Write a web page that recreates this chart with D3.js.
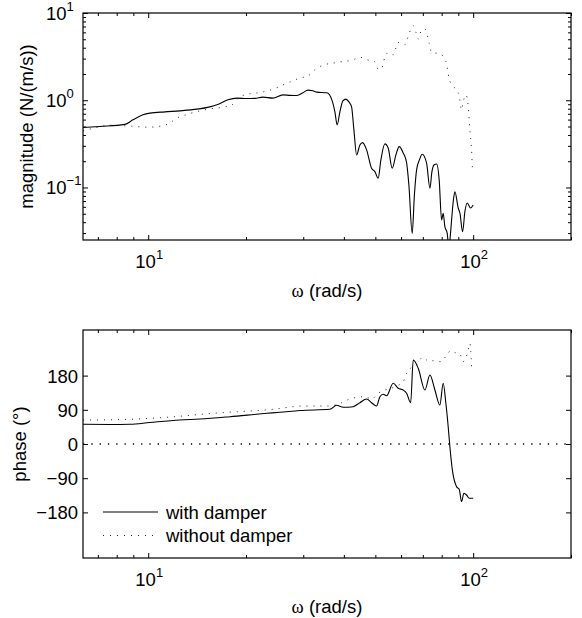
<!DOCTYPE html>
<html>
<head>
<meta charset="utf-8">
<script src="https://cdn.jsdelivr.net/npm/d3@7/dist/d3.min.js"></script>
<style>
body { margin: 0; background: #fff; }
text { font-family: "Liberation Sans", Arial, sans-serif; fill: #000; }
</style>
</head>
<body>
<svg id="chart"></svg>
<script>
var width = 582;
var height = 618;
var fontSize = "18.5px";

// magnitude with damper (omega in rad/s, N/(m/s))
var magOmegaDamped = [6.30, 7.10, 8.48, 8.97, 9.63, 10.12, 11.26, 12.52, 14.12, 15.48, 16.27, 17.59, 18.75, 20.13, 21.30, 22.54, 24.19, 25.97, 27.29, 28.68, 29.92, 31.00, 32.12, 33.04, 35.46, 36.74, 37.54, 38.15, 38.89, 39.73, 40.58, 41.45, 42.25, 42.95, 43.78, 44.81, 45.67, 46.99, 48.68, 49.83, 51.01, 52.00, 53.49, 54.76, 56.34, 57.84, 59.20, 60.90, 62.39, 63.41, 64.91, 65.94, 66.97, 68.32, 69.69, 71.89, 73.60, 74.64, 75.71, 77.17, 78.60, 79.95, 80.86, 81.84, 83.18, 84.19, 85.09, 85.82, 86.93, 87.86, 89.93, 91.02, 92.78, 94.30, 95.83, 98.17, 100];
var magDamped = [0.486, 0.501, 0.529, 0.596, 0.680, 0.711, 0.736, 0.756, 0.790, 0.840, 0.886, 1.011, 1.057, 1.046, 1.051, 1.085, 1.057, 1.153, 1.138, 1.132, 1.216, 1.306, 1.282, 1.239, 1.216, 1.011, 0.736, 0.522, 0.736, 0.984, 1.030, 0.958, 0.840, 0.457, 0.236, 0.307, 0.327, 0.270, 0.166, 0.152, 0.1275, 0.207, 0.316, 0.284, 0.166, 0.236, 0.294, 0.249, 0.193, 0.1068, 0.0298, 0.082, 0.159, 0.207, 0.2405, 0.1896, 0.0979, 0.1507, 0.181, 0.186, 0.122, 0.0424, 0.0506, 0.0355, 0.030, 0.0202, 0.0285, 0.0424, 0.0719, 0.0895, 0.0582, 0.051, 0.0311, 0.0528, 0.0664, 0.0582, 0.063];

// magnitude without damper
var magOmegaFree = [6.30, 6.855, 7.625, 8.89, 10, 11.12, 11.66, 12.28, 13.06, 13.76, 15.30, 17.01, 18.06, 18.71, 19.84, 22.07, 24.24, 26.34, 29.29, 31.07, 32.58, 34.16, 37.99, 42.73, 44.81, 47.18, 49.83, 51.01, 52.25, 53.10, 54.76, 56.74, 58.78, 61.65, 63.57, 65.40, 66.66, 67.76, 69.05, 71.03, 73.23, 74.47, 78.97, 82.41, 84.38, 86.81, 88.91, 90.58, 92.11, 93.16, 94.30, 94.96, 96.52, 97.68, 98.87, 99.58, 100];
var magFree = [0.445, 0.482, 0.518, 0.504, 0.491, 0.512, 0.550, 0.628, 0.680, 0.722, 0.790, 0.833, 0.878, 1.019, 1.153, 1.226, 1.341, 1.530, 1.794, 1.906, 2.234, 2.483, 2.709, 2.910, 3.109, 2.910, 2.760, 2.276, 2.294, 2.856, 3.528, 3.320, 4.598, 4.327, 5.894, 7.150, 5.989, 5.029, 6.149, 6.551, 4.525, 3.528, 3.409, 2.782, 1.761, 1.436, 1.316, 1.103, 0.776, 0.958, 1.103, 1.153, 0.862, 0.457, 0.270, 0.159, 0.151];

// phase with damper (degrees)
var phaseOmegaDamped = [6.30, 7.625, 8.785, 10.12, 12.52, 14.42, 17.84, 23.19, 25.42, 29.29, 36.23, 37.99, 39.81, 42.73, 44.81, 46.99, 48.68, 50.44, 51.64, 52.86, 54.14, 56.74, 58.78, 60.90, 62.39, 64.21, 65.40, 67.76, 71.03, 73.60, 76.25, 78.97, 80.86, 82.41, 83.78, 84.79, 86.44, 88.91, 90.58, 92.11, 93.63, 95.43, 97.20, 100];
var phaseDamped = [51.9, 51.3, 51.9, 56.6, 63.2, 65.8, 71.9, 80.8, 83.4, 88.2, 91.3, 101.9, 96.6, 98.2, 108.7, 118.4, 108.7, 100.0, 124.5, 130.8, 127.1, 159.8, 146.6, 142.1, 133.4, 108.7, 221.1, 199.2, 142.1, 181.6, 142.1, 102.6, 159.8, 107.1, 45.5, -7.1, -72.9, -112.4, -119.2, -151.9, -129.8, -134.2, -142.9, -142.9];

// phase without damper
var phaseOmegaFree = [6.30, 6.616, 8.785, 11.39, 15.85, 24.24, 29.98, 35.80, 39.37, 41.45, 43.97, 46.43, 48.68, 51.01, 57.42, 60.90, 62.39, 64.67, 66.97, 69.88, 72.71, 75.33, 79.95, 82.84, 85.40, 87.86, 91.02, 93.16, 94.96, 96.52, 97.68, 98.87];
var phaseFree = [63.2, 63.2, 65.0, 70.3, 80.8, 91.3, 100.0, 100.0, 108.7, 117.6, 122.9, 124.5, 118.4, 133.4, 150.8, 164.0, 186.1, 201.9, 207.9, 228.2, 219.2, 219.2, 216.6, 234.2, 245.6, 240.4, 236.9, 216.6, 225.6, 247.4, 265.0, 203.5];

// ticks
var omegaMajor = [10, 100];
var omegaMinor = [7, 8, 9, 20, 30, 40, 50, 60, 70, 80, 90, 200];
var magMajor = [0.1, 1, 10];
var magMinor = [0.03, 0.04, 0.05, 0.06, 0.07, 0.08, 0.09, 0.2, 0.3, 0.4, 0.5, 0.6, 0.7, 0.8, 0.9, 2, 3, 4, 5, 6, 7, 8, 9];
var phaseTicks = [-180, -90, 0, 90, 180];

var legendLabels = ["with damper", "without damper"];

var svg = d3.select("#chart")
.attr("width", width)
.attr("height", height);

var left = 83, right = 571;

var x = d3.scaleLog().domain([6.3, 200]).range([left, right]);
var yMag = d3.scaleLog().domain([0.025, 10]).range([240, 13]);
var yPhase = d3.scaleLinear().domain([-300, 300]).range([558, 330]);

function zip(a, b) {
	return a.map(function (d, i) { return [d, b[i]]; });
}

function drawTicks(y, top, bottom, xMaj, xMin, yMaj, yMin) {
	var g = svg.append("g");
	var sides = [
		[d3.axisBottom(x), top, xMaj, 5], [d3.axisBottom(x), top, xMin, 3],
		[d3.axisTop(x), bottom, xMaj, 5], [d3.axisTop(x), bottom, xMin, 3]
	];
	sides.forEach(function (s) {
		g.append("g")
		.attr("transform", "translate(0," + s[1] + ")")
		.call(s[0].tickValues(s[2]).tickSize(s[3]).tickFormat(""));
	});
	var ySides = [
		[d3.axisRight(y), left, yMaj, 5], [d3.axisRight(y), left, yMin, 3],
		[d3.axisLeft(y), right, yMaj, 5], [d3.axisLeft(y), right, yMin, 3]
	];
	ySides.forEach(function (s) {
		g.append("g")
		.attr("transform", "translate(" + s[1] + ",0)")
		.call(s[0].tickValues(s[2]).tickSize(s[3]).tickFormat(""));
	});
	g.selectAll(".domain").remove();
	g.selectAll("line").attr("stroke", "#000").attr("stroke-width", 1);
	svg.append("rect")
	.attr("x", left)
	.attr("y", top)
	.attr("width", right - left)
	.attr("height", bottom - top)
	.attr("fill", "none")
	.attr("stroke", "#000")
	.attr("stroke-width", 1.2);
}

function powerLabel(sel, base, exp, anchor) {
	sel.attr("text-anchor", anchor);
	sel.append("tspan").style("font-size", fontSize).text(base);
	sel.append("tspan").attr("dy", -9).style("font-size", "13px").text(exp);
}

function xLabels(baseline) {
	omegaMajor.forEach(function (d) {
		var t = svg.append("text")
		.attr("x", x(d) + 1)
		.attr("y", baseline);
		powerLabel(t, "10", String(Math.round(Math.log10(d))), "middle");
	});
}

function xTitle(baseline) {
	var t = svg.append("text")
	.attr("x", (left + right) / 2)
	.attr("y", baseline)
	.attr("text-anchor", "middle")
	.style("font-size", fontSize);
	t.append("tspan").style("font-family", "'Liberation Serif', serif").text("\u03c9");
	t.append("tspan").text(" (rad/s)");
}

function clip(id, top, bottom) {
	svg.append("clipPath").attr("id", id)
	.append("rect")
	.attr("x", left).attr("y", top)
	.attr("width", right - left).attr("height", bottom - top);
}

// ---- magnitude plot ----
clip("clipMag", 13, 240);
var magLine = d3.line()
.x(function (d) { return x(d[0]); })
.y(function (d) { return yMag(d[1]); })
.curve(d3.curveMonotoneX);

svg.append("path")
.datum(zip(magOmegaFree, magFree))
.attr("clip-path", "url(#clipMag)")
.attr("d", magLine)
.attr("fill", "none")
.attr("stroke", "#222")
.attr("stroke-width", 1)
.attr("stroke-dasharray", "1,6");

svg.append("path")
.datum(zip(magOmegaDamped, magDamped))
.attr("clip-path", "url(#clipMag)")
.attr("d", magLine)
.attr("fill", "none")
.attr("stroke", "#000")
.attr("stroke-width", 1.1);

drawTicks(yMag, 13, 240, omegaMajor, omegaMinor, magMajor, magMinor);
xLabels(268);
xTitle(297);

magMajor.forEach(function (d) {
	var e = Math.round(Math.log10(d));
	var t = svg.append("text")
	.attr("x", 46)
	.attr("y", yMag(d) + 7);
	powerLabel(t, "10", e < 0 ? "\u2212" + (-e) : String(e), "start");
});

svg.append("text")
.attr("transform", "translate(33," + ((13 + 240) / 2) + ") rotate(-90)")
.attr("text-anchor", "middle")
.style("font-size", fontSize)
.text("magnitude (N/(m/s))");

// ---- phase plot ----
clip("clipPhase", 330, 558);
var phaseLine = d3.line()
.x(function (d) { return x(d[0]); })
.y(function (d) { return yPhase(d[1]); })
.curve(d3.curveMonotoneX);

svg.append("line")
.attr("x1", left)
.attr("x2", right)
.attr("y1", yPhase(0))
.attr("y2", yPhase(0))
.attr("stroke", "#000")
.attr("stroke-width", 1.3)
.attr("stroke-dasharray", "1.3,7");

svg.append("path")
.datum(zip(phaseOmegaFree, phaseFree))
.attr("clip-path", "url(#clipPhase)")
.attr("d", phaseLine)
.attr("fill", "none")
.attr("stroke", "#222")
.attr("stroke-width", 1)
.attr("stroke-dasharray", "1,6");

svg.append("path")
.datum(zip(phaseOmegaDamped, phaseDamped))
.attr("clip-path", "url(#clipPhase)")
.attr("d", phaseLine)
.attr("fill", "none")
.attr("stroke", "#000")
.attr("stroke-width", 1.1);

drawTicks(yPhase, 330, 558, omegaMajor, omegaMinor, phaseTicks, []);
xLabels(586);
xTitle(613);

svg.selectAll(".phaseLabel")
.data(phaseTicks)
.enter().append("text")
.attr("x", 78)
.attr("y", function (d) { return yPhase(d) + 7; })
.attr("text-anchor", "end")
.style("font-size", fontSize)
.text(function (d) { return d < 0 ? "\u2212" + (-d) : String(d); });

svg.append("text")
.attr("transform", "translate(26," + ((330 + 558) / 2) + ") rotate(-90)")
.attr("text-anchor", "middle")
.style("font-size", fontSize)
.text("phase (\u00b0)");

// legend
var legend = svg.append("g");
legendLabels.forEach(function (name, i) {
	var ly = 512 + i * 23.5;
	legend.append("line")
	.attr("x1", 103).attr("x2", 158)
	.attr("y1", ly).attr("y2", ly)
	.attr("stroke", i == 0 ? "#000" : "#222")
	.attr("stroke-width", i == 0 ? 1.1 : 1)
	.attr("stroke-dasharray", i == 0 ? null : "1,6");
	legend.append("text")
	.attr("x", 166)
	.attr("y", ly + 6.5)
	.style("font-size", fontSize)
	.text(name);
});
</script>
</body>
</html>
